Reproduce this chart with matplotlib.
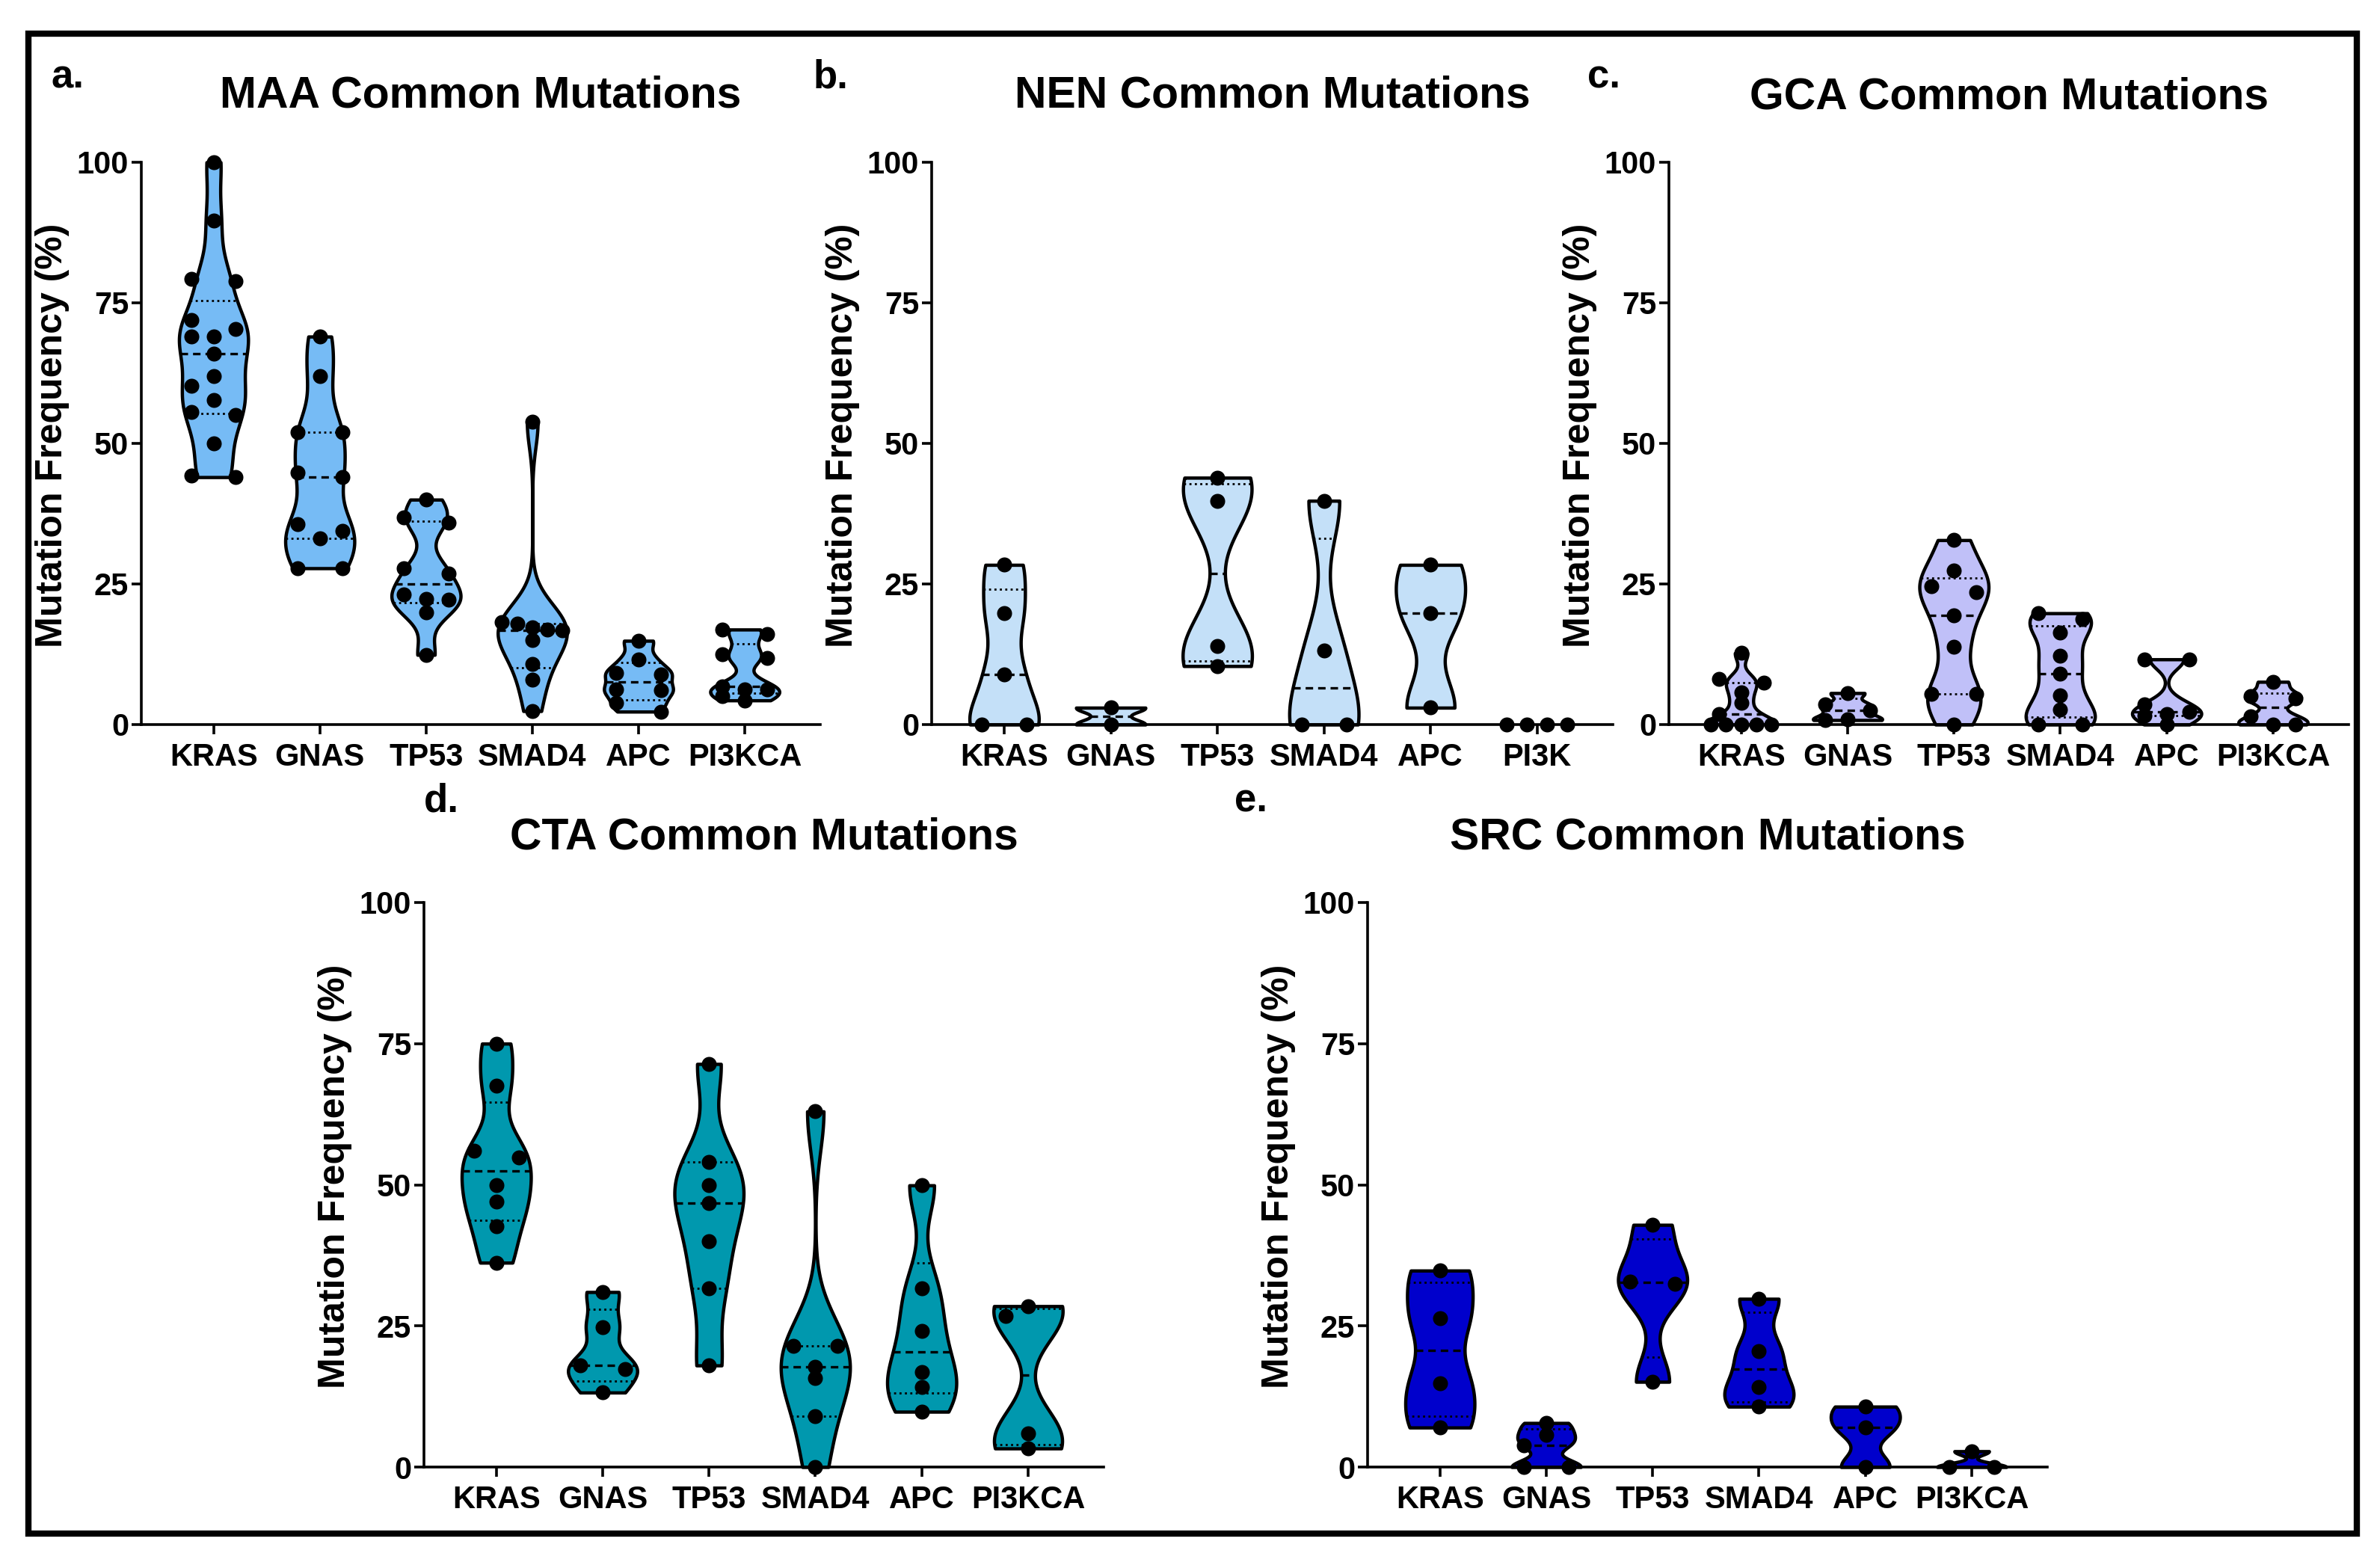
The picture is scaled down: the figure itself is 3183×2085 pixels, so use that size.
import numpy as np
import matplotlib
matplotlib.use("Agg")
import matplotlib.pyplot as plt
from matplotlib.patches import Rectangle

plt.rcParams['font.family'] = ['Liberation Sans', 'DejaVu Sans']
plt.rcParams['font.weight'] = 'bold'

# ---------------- data (mutation frequency, %) ----------------
genes = ["KRAS", "GNAS", "TP53", "SMAD4", "APC", "PI3KCA"]
genes_nen = ["KRAS", "GNAS", "TP53", "SMAD4", "APC", "PI3K"]

maa_kras = [100, 89.6, 79.3, 78.8, 72.0, 70.4, 69.0, 69.0, 66.0, 62.0, 60.3, 57.7, 55.6, 55.0, 50.0, 44.3, 44.0]
maa_gnas = [69.0, 62.0, 52.0, 52.0, 44.8, 44.0, 35.6, 34.4, 33.1, 27.8, 27.8]
maa_tp53 = [40.0, 36.9, 35.9, 27.8, 26.8, 23.1, 22.4, 22.2, 19.9, 12.4]
maa_smad4 = [53.8, 18.2, 17.9, 17.3, 16.9, 16.7, 15.0, 10.8, 8.0, 2.4]
maa_apc = [14.9, 11.6, 9.2, 8.9, 6.3, 6.1, 3.9, 2.3]
maa_pi3kca = [16.9, 16.1, 12.5, 11.8, 6.8, 6.3, 6.2, 5.0, 4.3]

nen_kras = [28.4, 19.8, 8.9, 0, 0]
nen_gnas = [3.0, 0]
nen_tp53 = [43.9, 39.8, 14.0, 10.4]
nen_smad4 = [39.8, 13.1, 0, 0]
nen_apc = [28.4, 19.8, 3.0]
nen_pi3k = [0, 0, 0, 0]

gca_kras = [12.7, 8.1, 7.4, 5.7, 3.8, 1.8, 0, 0, 0, 0, 0]
gca_gnas = [5.6, 3.6, 2.5, 0.9, 0.8]
gca_tp53 = [32.8, 27.4, 24.6, 23.6, 19.4, 13.8, 5.4, 5.4, 0]
gca_smad4 = [19.8, 18.7, 16.3, 12.3, 9.1, 5.2, 2.6, 0, 0]
gca_apc = [11.6, 11.6, 3.6, 2.3, 1.9, 1.6, 0]
gca_pi3kca = [7.6, 5.0, 4.6, 1.5, 0, 0]

cta_kras = [75.0, 67.5, 56.0, 54.9, 49.9, 47.0, 42.6, 36.2]
cta_gnas = [31.0, 24.8, 18.0, 17.3, 13.2]
cta_tp53 = [71.4, 54.1, 49.9, 46.8, 40.0, 31.6, 18.0]
cta_smad4 = [63.0, 21.4, 21.4, 17.7, 15.7, 9.0, 0]
cta_apc = [49.9, 31.6, 24.1, 16.8, 14.2, 9.8]
cta_pi3kca = [28.5, 26.7, 5.9, 3.3]

src_kras = [34.8, 26.3, 14.9, 7.0]
src_gnas = [7.8, 5.7, 3.9, 0, 0]
src_tp53 = [42.9, 32.9, 32.4, 15.1]
src_smad4 = [29.8, 20.5, 14.2, 10.7]
src_apc = [10.7, 7.0, 0]
src_pi3kca = [2.8, 0, 0]

panels = [
    dict(letter="a.", title="MAA Common Mutations", labels=genes, color="#76BBF5",
         data=[maa_kras, maa_gnas, maa_tp53, maa_smad4, maa_apc, maa_pi3kca]),
    dict(letter="b.", title="NEN Common Mutations", labels=genes_nen, color="#C4E0F8",
         data=[nen_kras, nen_gnas, nen_tp53, nen_smad4, nen_apc, nen_pi3k]),
    dict(letter="c.", title="GCA Common Mutations", labels=genes, color="#C0C0F8",
         data=[gca_kras, gca_gnas, gca_tp53, gca_smad4, gca_apc, gca_pi3kca]),
    dict(letter="d.", title="CTA Common Mutations", labels=genes, color="#0098AE",
         data=[cta_kras, cta_gnas, cta_tp53, cta_smad4, cta_apc, cta_pi3kca]),
    dict(letter="e.", title="SRC Common Mutations", labels=genes, color="#0000CC",
         data=[src_kras, src_gnas, src_tp53, src_smad4, src_apc, src_pi3kca]),
]

# ---------------- layout (pixels of a 3183 x 2085 canvas) ----------------
W, H = 3183, 2085
DPI = 200
boxes = [(189, 1097, 217, 969), (1246, 2157, 217, 969), (2232, 3141, 217, 969),
         (567, 1476, 1207, 1962), (1829, 2738, 1207, 1962)]
letter_pos = [(68, 117), (1088, 117), (2123, 117), (567, 1086), (1651, 1086)]
title_base = [144, 144, 145, 1136, 1136]

HALF = 0.325      # max half-width of a violin (category units)
STEP = 0.21       # horizontal step between dots
SPAN = 0.57


def kde_outline(vals, n=300):
    v = np.asarray(vals, float)
    sd = v.std(ddof=1) if len(v) > 1 else 0.0
    if sd == 0:
        return None
    h = 0.52 * sd * len(v) ** (-0.2)
    y = np.linspace(v.min(), v.max(), n)
    d = np.exp(-0.5 * ((y[:, None] - v[None, :]) / h) ** 2).sum(axis=1)
    return y, HALF * d / d.max()


def swarm_offsets(vals, dy=1.9, dx=0.125, tie=1.6):
    v = np.asarray(vals, float)
    order = np.argsort(-v, kind="stable")
    rows = []
    for i in order:
        if rows and v[rows[-1][0]] - v[i] <= tie:
            rows[-1].append(i)
        else:
            rows.append([i])
    rows.sort(key=lambda r: (-len(r) if len(r) > 1 else 0, -v[r[0]]))
    offs = np.zeros(len(v))
    placed = []

    def cost(x, y):
        c = 0.0
        for px, py in placed:
            if abs(x - px) < dx and abs(y - py) < dy:
                c += (dx - abs(x - px)) * (dy - abs(y - py))
        return c

    for row in rows:
        n = len(row)
        if n > 1:
            st = min(STEP if n % 2 else 2 * STEP, SPAN / (n - 1))
            base = (np.arange(n) - (n - 1) / 2) * st
            if all(cost(b, v[i]) == 0 for b, i in zip(base, row)):
                for b, i in zip(base, row):
                    offs[i] = b
                    placed.append((b, v[i]))
                continue
        for i in row:
            cands = [0, -STEP, STEP, -STEP / 2, STEP / 2]
            costs = [cost(c, v[i]) for c in cands]
            best = cands[int(np.argmin(costs))]
            offs[i] = best
            placed.append((best, v[i]))
    return offs


fig = plt.figure(figsize=(W / DPI, H / DPI), dpi=DPI)

for p, (l, r, t, b), (lx, ly), tb in zip(panels, boxes, letter_pos, title_base):
    ax = fig.add_axes([l / W, 1 - b / H, (r - l) / W, (b - t) / H])
    for k, vals in enumerate(p["data"]):
        v = np.asarray(vals, float)
        out = kde_outline(v)
        if out is not None:
            y, w = out
            ax.fill_betweenx(y, k - w, k + w, facecolor=p["color"], edgecolor="black",
                             linewidth=1.6, zorder=2, clip_on=False, joinstyle="round")
            med = np.median(v)
            q1, q3 = np.percentile(v, [25, 75], method="weibull")
            for q, ls, lw in [(med, (0, (3.0, 2.0)), 1.2), (q1, (0, (1.0, 1.6)), 1.0),
                              (q3, (0, (1.0, 1.6)), 1.0)]:
                q = min(max(q, v.min()), v.max())
                hw = np.interp(q, y, w)
                ax.plot([k - hw, k + hw], [q, q], color="black", linestyle=ls,
                        linewidth=lw, zorder=3, solid_capstyle="butt", dash_capstyle="butt")
        xo = swarm_offsets(v)
        ax.scatter(k + xo, v, s=52, color="black", zorder=5, clip_on=False, linewidths=0)

    ax.set_xlim(-0.68, 5.71)
    ax.set_ylim(0, 100)
    ax.set_yticks([0, 25, 50, 75, 100])
    ax.set_xticks(range(6))
    ax.set_xticklabels(p["labels"])
    for s in ["top", "right"]:
        ax.spines[s].set_visible(False)
    for s in ["left", "bottom"]:
        ax.spines[s].set_linewidth(1.3)
    ax.tick_params(axis="both", direction="out", length=4.6, width=1.3, labelsize=15)
    ax.tick_params(axis="y", pad=1.5)
    ax.tick_params(axis="x", pad=4.0)
    for lab in ax.get_xticklabels() + ax.get_yticklabels():
        lab.set_fontweight("bold")
    ax.set_ylabel("Mutation Frequency (%)", fontsize=18, fontweight="bold", va="center")
    ax.yaxis.set_label_coords(-119 / (r - l), 0.5 + 11 / (b - t))

    fig.text(((l + r) / 2) / W, 1 - tb / H, p["title"], ha="center", va="baseline",
             fontsize=21.2, fontweight="bold")
    fig.text(lx / W, 1 - ly / H, p["letter"], ha="left", va="baseline",
             fontsize=19, fontweight="bold")

# outer frame
fig.patches.append(Rectangle((38 / W, 1 - 2051 / H), (3152 - 38) / W, (2051 - 44.5) / H,
                             transform=fig.transFigure, fill=False, edgecolor="black",
                             linewidth=3.0, zorder=10))

fig.savefig("out.png", dpi=DPI, facecolor="white")
